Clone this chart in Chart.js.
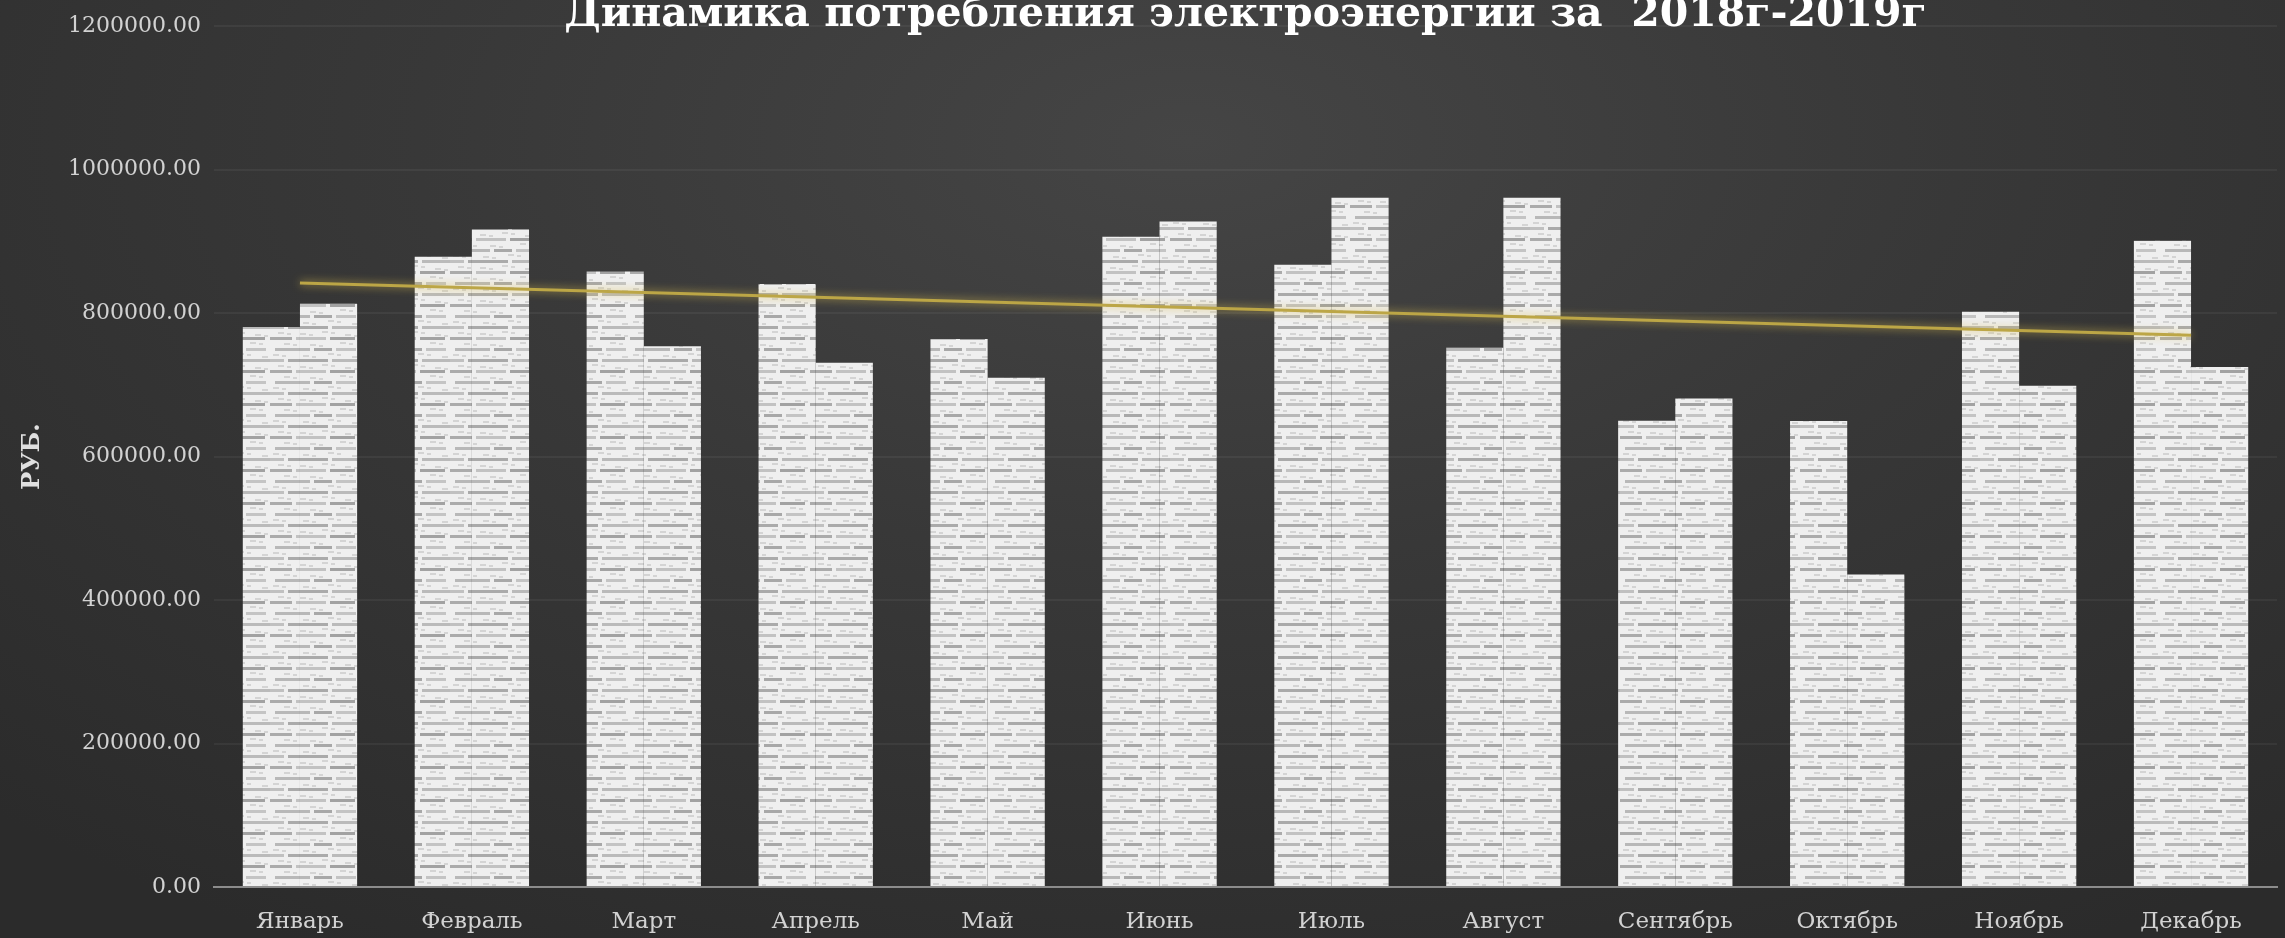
<!DOCTYPE html>
<html><head><meta charset="utf-8">
<script src="https://cdn.jsdelivr.net/npm/chart.js@4.4.1/dist/chart.umd.min.js"></script>
<style>
html,body{margin:0;padding:0;width:2285px;height:938px;overflow:hidden;}
body{background: radial-gradient(ellipse 75% 100% at 52% 15%, #454545 0%, #383838 45%, #2b2b2b 100%);}
#wrap{position:relative;width:2285px;height:938px;}
canvas{display:block;}
</style></head><body><div id="wrap"><canvas id="c" width="2285" height="938"></canvas></div>
<script>
const months = ['Январь','Февраль','Март','Апрель','Май','Июнь','Июль','Август','Сентябрь','Октябрь','Ноябрь','Декабрь'];
const values2018 = [780600, 878700, 858000, 840700, 764000, 906500, 867600, 751800, 650000, 649500, 802000, 901000];
const values2019 = [813000, 917000, 754000, 731000, 710000, 927800, 961000, 961000, 681000, 435600, 698600, 725000];
const trendValues = [842000, null, null, null, null, null, null, null, null, null, null, 769000];
const yTickMin = 0, yTickMax = 1200000, yTickStep = 200000;
const chartTitle = 'Динамика потребления электроэнергии за  2018г-2019г';
const yAxisTitle = 'РУБ.';
const seriesNames = ['2018', '2019', 'Линейная (тренд)'];

const canvas = document.getElementById('c');
const ctx = canvas.getContext('2d');

function makePattern(){
  const p = document.createElement('canvas'); p.width = 90; p.height = 33;
  const g = p.getContext('2d');
  g.fillStyle = '#efefef'; g.fillRect(0,0,90,33);
  const rows = [
    [[0,22,'#ababab'],[26,30,'#c2c2c2'],[60,25,'#a2a2a2']],
    [[5,35,'#b8b8b8'],[44,18,'#a8a8a8'],[66,20,'#c4c4c4']],
    [[0,14,'#c0c0c0'],[18,40,'#aaaaaa'],[62,28,'#bababa']]
  ];
  rows.forEach((segs,r)=>segs.forEach(([x,w,c])=>{g.fillStyle=c; g.fillRect(x, r*11+7, w, 3);}));
  const specks = [[8,2],[30,3],[52,1],[75,4],[14,13],[40,14],[70,12],[3,24],[33,25],[58,23],[82,26]];
  g.fillStyle = '#d4d4d4';
  specks.forEach(([x,y])=>{ g.fillRect(x,y,6,2); g.fillRect(x+9,y+1,4,2); });
  return ctx.createPattern(p,'repeat');
}
const barFill = makePattern();

const glow = {
  id:'glow',
  beforeDatasetDraw(chart,args){ if(chart.data.datasets[args.index].type==='line'){ const c=chart.ctx; c.save(); c.shadowColor='rgba(220,190,80,0.85)'; c.shadowBlur=9; } },
  afterDatasetDraw(chart,args){ if(chart.data.datasets[args.index].type==='line'){ chart.ctx.restore(); } }
};

new Chart(ctx, {
  data: {
    labels: months,
    datasets: [
      { type:'line', label: seriesNames[2], data: trendValues, spanGaps:true, borderColor:'#bca646', borderWidth:3, pointRadius:0, order:0 },
      { type:'bar', label: seriesNames[0], data: values2018, backgroundColor: barFill, borderWidth:0, categoryPercentage:0.665, barPercentage:1, order:1 },
      { type:'bar', label: seriesNames[1], data: values2019, backgroundColor: barFill, borderWidth:0, categoryPercentage:0.665, barPercentage:1, order:1 }
    ]
  },
  plugins:[glow],
  options: {
    responsive:false, animation:false, events:[],
    devicePixelRatio:1,
    layout:{ padding:{ left:0, right:8, top:0, bottom:0 } },
    plugins:{
      legend:{ display:false },
      tooltip:{ enabled:false },
      title:{ display:true, fullSize:false, text: chartTitle, color:'#ffffff', font:{ family:'DejaVu Serif', size:41, weight:'bold', lineHeight:0.5 }, padding:{ top:0, bottom:1 } }
    },
    scales:{
      x:{
        grid:{ display:false, drawTicks:false, tickLength:0 },
        border:{ display:true, color:'#8c8c8c', width:2 },
        ticks:{ color:'#d2d2d2', font:{ family:'DejaVu Serif', size:23 }, padding:21, maxRotation:0, autoSkip:false },
        afterFit(s){ s.height = 51; }
      },
      y:{
        min:yTickMin, max:yTickMax,
        grid:{ color:'rgba(255,255,255,0.05)', lineWidth:2, drawTicks:false, tickLength:0 },
        border:{ display:false },
        ticks:{ stepSize:yTickStep, color:'#d2d2d2', font:{ family:'DejaVu Serif', size:22 }, padding:13, callback:(v)=>Number(v).toFixed(2) },
        title:{ display:true, text:yAxisTitle, color:'#e0e0e0', font:{ family:'DejaVu Serif', size:24, weight:'bold' }, padding:{ top:18, bottom:0 } },
        afterFit(s){ s.width = 214; }
      }
    }
  }
});
</script>
</body></html>
